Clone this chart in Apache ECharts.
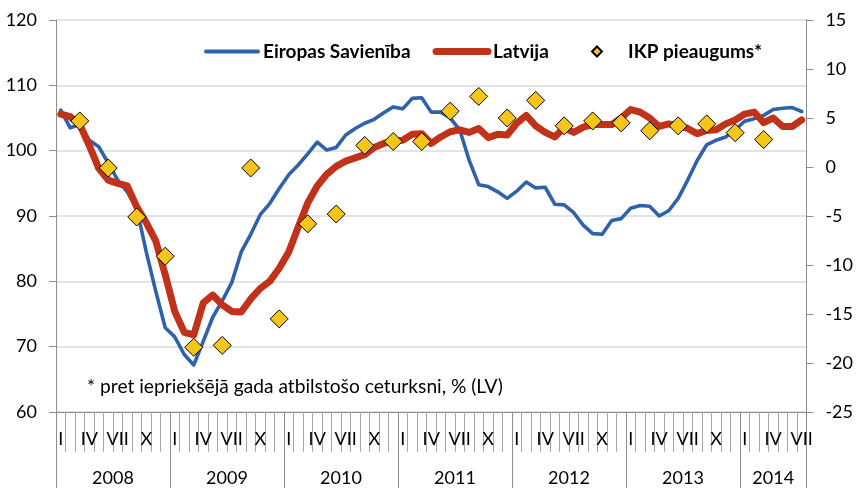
<!DOCTYPE html>
<html>
<head>
<meta charset="utf-8">
<script src="https://cdn.jsdelivr.net/npm/echarts@6/dist/echarts.min.js"></script>
<style>
  html, body { margin: 0; padding: 0; background: #fff; }
  #my_chart { width: 856px; height: 488px; }
</style>
</head>
<body>
<div id="my_chart"></div>
<script>
  var years = ['2008', '2009', '2010', '2011', '2012', '2013', '2014'];
  var monthsPerYear = [12, 12, 12, 12, 12, 12, 7];
  var romans = ['I', 'II', 'III', 'IV', 'V', 'VI', 'VII', 'VIII', 'IX', 'X', 'XI', 'XII'];
  var shownMonths = ['I', 'IV', 'VII', 'X'];
  var quarterEnds = ['III', 'VI', 'IX', 'XII'];

  // Eiropas Savienība (monthly, left axis)
  var euValues = [
    106.2, 103.5, 104.0, 101.6, 100.6, 98.1, 95.5, 93.7, 91.2, 84.5, 78.5, 72.9,
    71.5, 68.8, 67.2, 70.8, 74.5, 77.0, 79.8, 84.5, 87.2, 90.2, 91.9, 94.2,
    96.3, 97.8, 99.5, 101.3, 100.1, 100.5, 102.4, 103.4, 104.2, 104.8, 105.8, 106.7,
    106.4, 108.0, 108.1, 105.9, 105.9, 105.0, 103.2, 98.5, 94.8, 94.5, 93.7, 92.7,
    93.8, 95.2, 94.3, 94.4, 91.8, 91.7, 90.5, 88.6, 87.3, 87.2, 89.3, 89.6,
    91.2, 91.6, 91.5, 90.0, 90.8, 92.7, 95.5, 98.5, 100.9, 101.6, 102.1, 103.2,
    104.5, 104.9, 105.4, 106.3, 106.5, 106.6, 106.0
  ];
  // Latvija (monthly, left axis)
  var lvValues = [
    105.6, 105.2, 104.0, 100.8, 97.3, 95.5, 95.0, 94.6, 91.4, 89.0, 86.2, 81.0,
    75.4, 72.2, 71.8, 76.7, 77.9, 76.4, 75.4, 75.3, 77.3, 78.9, 80.0, 82.0,
    84.5, 88.3, 92.0, 94.6, 96.4, 97.6, 98.4, 98.9, 99.4, 100.5, 101.1, 101.5,
    101.6, 102.5, 102.6, 101.1, 102.1, 102.9, 103.2, 102.8, 103.4, 102.0, 102.5, 102.4,
    104.2, 105.4, 103.8, 102.8, 102.1, 103.5, 102.8, 103.6, 104.0, 104.0, 104.0, 105.0,
    106.3, 105.9, 105.0, 103.7, 104.1, 103.8, 103.4, 102.6, 103.1, 103.2, 104.1, 104.7,
    105.6, 105.9, 104.3, 105.0, 103.7, 103.7, 104.7
  ];
  // IKP pieaugums* (quarterly, right axis), 2008 Q1 .. 2014 Q1
  var gdpGrowth = [
    4.7, -0.1, -5.1, -9.1,
    -18.4, -18.2, -0.1, -15.5,
    -5.8, -4.8, 2.2, 2.6,
    2.6, 5.7, 7.2, 5.0,
    6.8, 4.2, 4.7, 4.5,
    3.7, 4.2, 4.4, 3.5,
    2.8
  ];

  var months = [];
  years.forEach(function (y, i) {
    for (var m = 0; m < monthsPerYear[i]; m++) months.push(y + ' ' + romans[m]);
  });
  var gdpData = gdpGrowth.map(function (v, i) {
    var y = years[Math.floor(i / 4)];
    return [y + ' ' + quarterEnds[i % 4], v];
  });

  var font = 'Lato';
  var axisColor = '#8c8c8c';
  var legendText = { fontFamily: font, fontSize: 19, fontWeight: 'bold', color: '#000' };

  var my_chart = echarts.init(document.getElementById('my_chart'));
  my_chart.setOption({
    animation: false,
    textStyle: { fontFamily: font },
    grid: { left: 56, right: 46, top: 20, bottom: 76 },
    title: {
      text: '* pret iepriekšējā gada atbilstošo ceturksni, % (LV)',
      left: 87, top: 377, padding: 0,
      textStyle: { fontFamily: font, fontSize: 19.2, fontWeight: 'normal', color: '#000' }
    },
    legend: [{
      left: 204, top: 42, padding: 0,
      itemWidth: 52, itemHeight: 10, itemGap: 22,
      textStyle: legendText,
      data: [
        { name: 'Eiropas Savienība', lineStyle: { width: 4, cap: 'round' }, itemStyle: { opacity: 0 } },
        { name: 'Latvija', lineStyle: { width: 7, cap: 'round' }, itemStyle: { opacity: 0 } }
      ]
    }, {
      left: 591, top: 42, padding: 0,
      itemWidth: 10, itemHeight: 10,
      textStyle: Object.assign({ padding: [0, 0, 0, 21] }, legendText),
      data: [{ name: 'IKP pieaugums*', icon: 'diamond' }]
    }],
    xAxis: [{
      type: 'category',
      data: months,
      boundaryGap: true,
      axisLine: { onZero: false, lineStyle: { color: axisColor } },
      axisTick: { show: true, interval: 0, length: 40, lineStyle: { color: '#a6a6a6' } },
      axisLabel: {
        interval: 0, margin: 18, fontSize: 18, color: '#000', fontFamily: font,
        formatter: function (v) {
          var r = v.split(' ')[1];
          return shownMonths.indexOf(r) >= 0 ? r : '';
        }
      }
    }, {
      type: 'category',
      data: months,
      boundaryGap: true,
      position: 'bottom',
      axisLine: { show: false, onZero: false },
      axisTick: {
        show: true, length: 76, lineStyle: { color: axisColor },
        interval: function (i, v) { return v.split(' ')[1] === 'I'; }
      },
      axisLabel: {
        margin: 57, fontSize: 18, color: '#000', fontFamily: font,
        interval: function (i, v) {
          var p = v.split(' ');
          return p[0] === '2014' ? p[1] === 'IV' : p[1] === 'VI';
        },
        formatter: function (v) {
          var y = v.split(' ')[0];
          return y === '2014' ? '{b|' + y + '}' : '{a|' + y + '}';
        },
        rich: {
          a: { fontSize: 18, fontFamily: font, color: '#000', padding: [0, 0, 0, 9.5] },
          b: { fontSize: 18, fontFamily: font, color: '#000' }
        }
      }
    }],
    yAxis: [{
      type: 'value', position: 'left',
      min: 60, max: 120, interval: 10,
      axisLine: { show: true, lineStyle: { color: axisColor } },
      axisTick: { show: true, length: 7, lineStyle: { color: axisColor } },
      axisLabel: { margin: 19, fontSize: 18, color: '#000', fontFamily: font },
      splitLine: { lineStyle: { color: '#dadada', width: 1.6 } }
    }, {
      type: 'value', position: 'right',
      min: -25, max: 15, interval: 5,
      axisLine: { show: true, lineStyle: { color: axisColor } },
      axisTick: { show: true, length: 7, lineStyle: { color: axisColor } },
      axisLabel: { margin: 19, fontSize: 18, color: '#000', fontFamily: font },
      splitLine: { show: false }
    }],
    series: [{
      name: 'Eiropas Savienība',
      type: 'line',
      data: euValues,
      symbol: 'none',
      color: '#2f62a8',
      lineStyle: { color: '#2f62a8', width: 3.6, join: 'round', cap: 'round' },
      z: 2
    }, {
      name: 'Latvija',
      type: 'line',
      data: lvValues,
      symbol: 'none',
      color: '#c0321a',
      lineStyle: { color: '#c0321a', width: 7, join: 'round', cap: 'round' },
      z: 3
    }, {
      name: 'IKP pieaugums*',
      type: 'scatter',
      yAxisIndex: 1,
      data: gdpData,
      symbol: 'diamond',
      symbolSize: 18,
      itemStyle: { color: '#f6c51c', borderColor: '#000', borderWidth: 1, opacity: 1 },
      z: 4
    }]
  });
</script>
</body>
</html>
